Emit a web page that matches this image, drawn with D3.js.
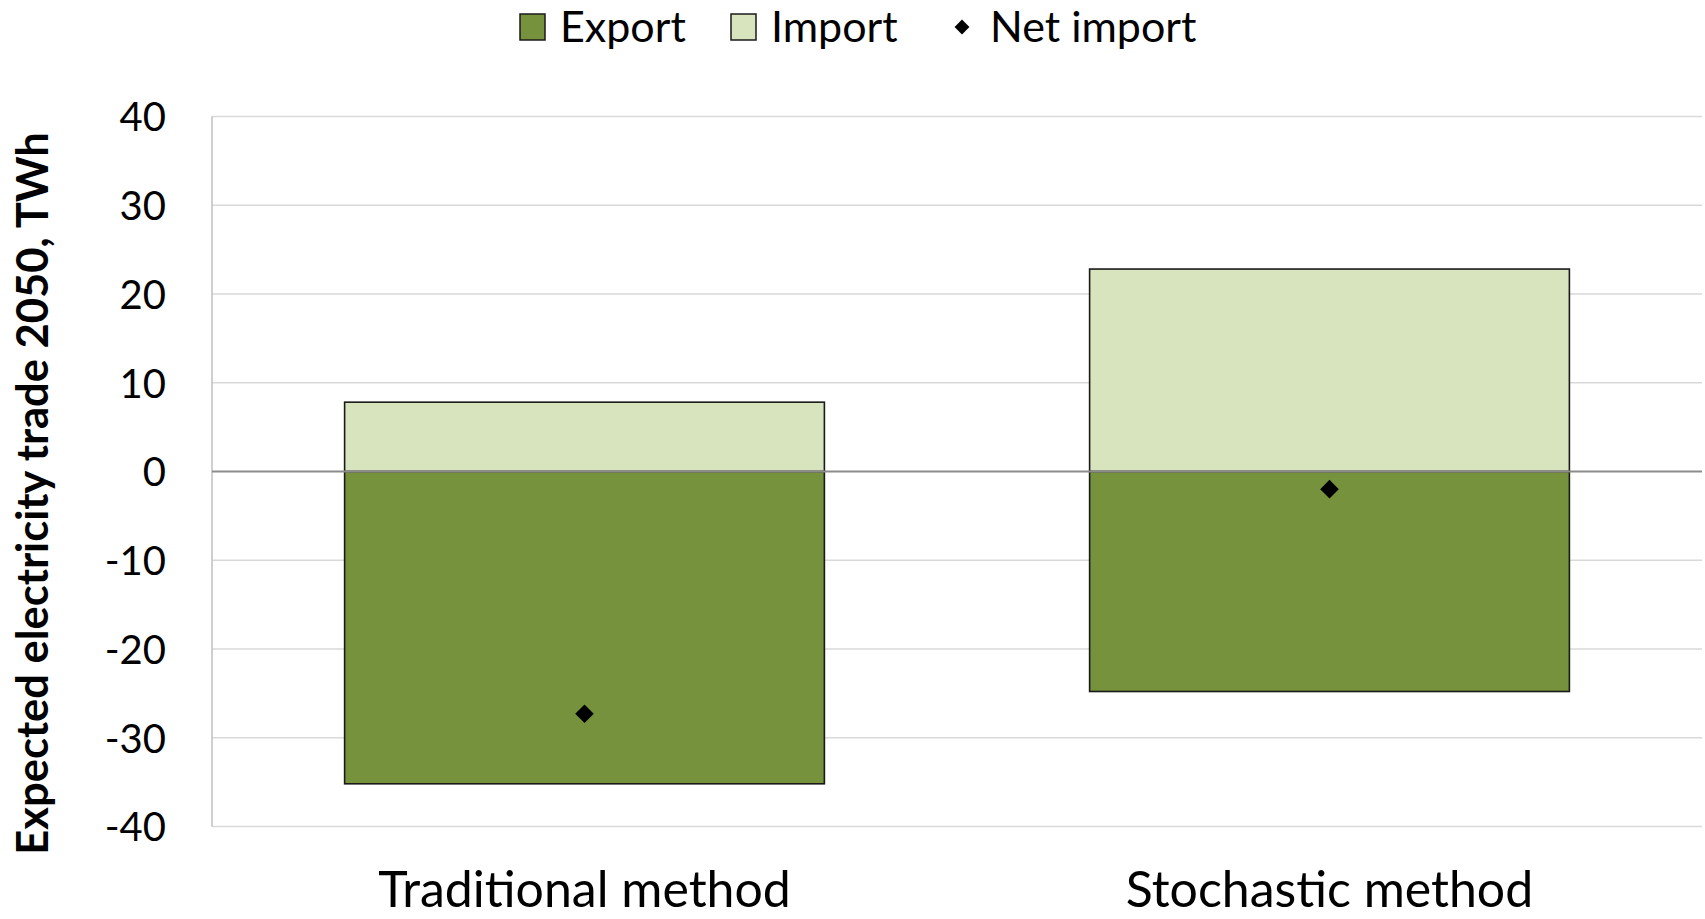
<!DOCTYPE html>
<html>
<head>
<meta charset="utf-8">
<script src="https://cdn.jsdelivr.net/npm/d3@7"></script>
<style>
  html, body { margin: 0; padding: 0; background: #ffffff; }
  svg { display: block; }
  text { font-family: Lato, "Open Sans", sans-serif; fill: #000; }
</style>
</head>
<body>
<svg id="chart" width="1705" height="919"></svg>
<script>
// Expected electricity trade in 2050 (TWh) for two modelling approaches
const categories = ["Traditional method", "Stochastic method"];
const exportValues = [-35.2, -24.8];   // exports shown as negative trade
const importValues = [7.8, 22.8];
const netImportValues = [-27.3, -2.0];
const yTicks = [40, 30, 20, 10, 0, -10, -20, -30, -40];
const seriesNames = ["Export", "Import", "Net import"];

const colors = { export: "#76923c", import: "#d7e4bd", net: "#000000" };

const svg = d3.select("#chart");
const plot = { left: 212, right: 1702, top: 116.4, bottom: 826.4 };

const x = d3.scaleBand()
  .domain(categories)
  .range([plot.left, plot.right])
  .paddingInner(0.356)
  .paddingOuter(0.178);

const y = d3.scaleLinear()
  .domain([-40, 40])
  .range([plot.bottom, plot.top]);

// horizontal gridlines
svg.append("g")
  .selectAll("line")
  .data(yTicks.filter(d => d !== 0))
  .join("line")
  .attr("x1", plot.left).attr("x2", plot.right)
  .attr("y1", d => y(d)).attr("y2", d => y(d))
  .attr("stroke", "#d9d9d9")
  .attr("stroke-width", 1.5);

// left axis line
svg.append("line")
  .attr("x1", plot.left).attr("x2", plot.left)
  .attr("y1", plot.top).attr("y2", plot.bottom)
  .attr("stroke", "#bfbfbf")
  .attr("stroke-width", 1.5);

// y axis tick labels
const yAxis = d3.axisLeft(y).tickValues(yTicks).tickSize(0).tickPadding(46)
  .tickFormat(d3.format("d"));
const yAxisG = svg.append("g")
  .attr("transform", `translate(${plot.left},0)`)
  .call(yAxis);
yAxisG.select(".domain").remove();
yAxisG.selectAll("text")
  .attr("font-family", "Lato, sans-serif")
  .attr("font-size", 40)
  .attr("fill", "#000")
  .attr("dy", "0.36em")
  .text(d => d < 0 ? "-" + Math.abs(d) : String(d));

// stacked bars: export below zero, import above
const bars = svg.append("g");
bars.selectAll("rect.export")
  .data(categories.map((c, i) => ({ c, v: exportValues[i] })))
  .join("rect")
  .attr("class", "export")
  .attr("x", d => x(d.c))
  .attr("width", x.bandwidth())
  .attr("y", y(0))
  .attr("height", d => y(d.v) - y(0))
  .attr("fill", colors.export)
  .attr("stroke", "#1a1a1a")
  .attr("stroke-width", 1.6);

bars.selectAll("rect.import")
  .data(categories.map((c, i) => ({ c, v: importValues[i] })))
  .join("rect")
  .attr("class", "import")
  .attr("x", d => x(d.c))
  .attr("width", x.bandwidth())
  .attr("y", d => y(d.v))
  .attr("height", d => y(0) - y(d.v))
  .attr("fill", colors.import)
  .attr("stroke", "#1a1a1a")
  .attr("stroke-width", 1.6);

// zero line drawn over the bars
svg.append("line")
  .attr("x1", plot.left).attr("x2", plot.right)
  .attr("y1", y(0)).attr("y2", y(0))
  .attr("stroke", "#8c8c8c")
  .attr("stroke-width", 2);

// net import markers
const diamond = d3.symbol().type(d3.symbolDiamond2).size(220);
svg.append("g")
  .selectAll("path")
  .data(categories.map((c, i) => ({ c, v: netImportValues[i] })))
  .join("path")
  .attr("d", diamond)
  .attr("transform", d => `translate(${x(d.c) + x.bandwidth() / 2},${y(d.v)})`)
  .attr("fill", colors.net);

// category labels
svg.append("g")
  .selectAll("text")
  .data(categories)
  .join("text")
  .attr("x", d => x(d) + x.bandwidth() / 2)
  .attr("y", 907)
  .attr("text-anchor", "middle")
  .attr("font-size", 50)
  .text(d => d);

// y axis title
svg.append("text")
  .attr("transform", `translate(48,${(plot.top + plot.bottom) / 2 + 22}) rotate(-90)`)
  .attr("text-anchor", "middle")
  .attr("font-weight", "bold")
  .attr("font-size", 43.5)
  .text("Expected electricity trade 2050, TWh");

// legend
const legend = svg.append("g");
const legendItems = [
  { name: seriesNames[0], type: "rect", fill: colors.export, sx: 520, tx: 560 },
  { name: seriesNames[1], type: "rect", fill: colors.import, sx: 731, tx: 771 },
  { name: seriesNames[2], type: "diamond", fill: colors.net, sx: 962, tx: 990 }
];
legendItems.forEach(item => {
  if (item.type === "rect") {
    legend.append("rect")
      .attr("x", item.sx).attr("y", 14)
      .attr("width", 25).attr("height", 26)
      .attr("fill", item.fill)
      .attr("stroke", "#1a1a1a")
      .attr("stroke-width", 1.5);
  } else {
    legend.append("path")
      .attr("d", d3.symbol().type(d3.symbolDiamond2).size(140))
      .attr("transform", `translate(${item.sx},27)`)
      .attr("fill", item.fill);
  }
  legend.append("text")
    .attr("x", item.tx).attr("y", 42)
    .attr("font-size", 43)
    .text(item.name);
});
</script>
</body>
</html>
